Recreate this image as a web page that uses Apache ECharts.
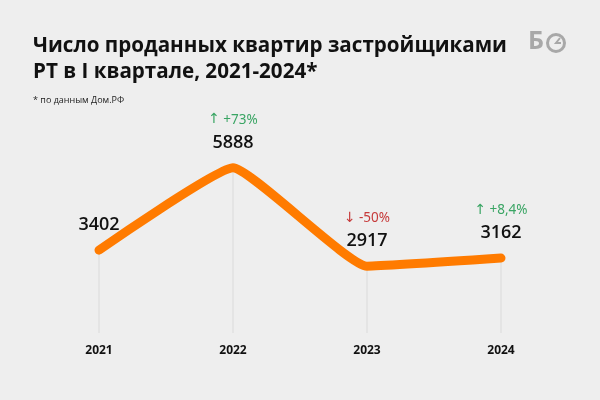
<!DOCTYPE html>
<html><head><meta charset="utf-8">
<script src="https://cdn.jsdelivr.net/npm/echarts@6/dist/echarts.min.js"></script>
<style>html,body{margin:0;padding:0;background:#eeeeee}#c{width:600px;height:400px}</style>
</head><body><div id="c"></div>
<script>
const years = ['2021', '2022', '2023', '2024'];
const sold = [3402, 5888, 2917, 3162];
const changes = ['', '+73%', '-50%', '+8,4%'];
const directions = [0, 1, -1, 1];

const chart = echarts.init(document.getElementById('c'));
const F = 'Open Sans, Noto Sans, sans-serif';
chart.setOption({
  backgroundColor: '#eeeeee',
  animation: false,
  title: [
    {text: 'Число проданных квартир застройщиками\nРТ в I квартале, 2021-2024*', left: 28, top: 28,
     textStyle: {fontFamily: F, fontSize: 20.6, fontWeight: 'bold', color: '#111', lineHeight: 26}},
    {text: '* по данным Дом.РФ', left: 28, top: 91, textStyle: {fontFamily: F, fontSize: 9, fontWeight: 'normal', color: '#222'}}
  ],
  graphic: [
    {type: 'text', left: 528, top: 29, style: {text: 'Б', fontFamily: F, fontSize: 25, fontWeight: 'bold', fill: '#a8a8a8'}},
    {type: 'circle', shape: {cx: 556, cy: 43, r: 8.5}, style: {fill: 'none', stroke: '#a8a8a8', lineWidth: 3}},
    {type: 'polyline', shape: {points: [[560, 38], [556, 43], [561, 43]]}, style: {fill: 'none', stroke: '#a8a8a8', lineWidth: 2}}
  ],
  grid: {left: 32, right: 32, top: 131, bottom: 67},
  xAxis: {
    type: 'category', data: years, boundaryGap: true,
    axisLine: {show: false}, axisTick: {show: false}, splitLine: {show: false},
    axisLabel: {margin: 12, fontFamily: F, fontSize: 12, fontWeight: 'bold', color: '#111'}
  },
  yAxis: {type: 'value', min: 900, max: 7000, show: false, splitLine: {show: false}},
  series: [
    {type: 'bar', data: sold, barWidth: 1, itemStyle: {color: '#d9d9d9'}, z: 1, silent: true,
     label: {show: true, position: 'top', distance: 13,
       formatter: p => {
         const c = changes[p.dataIndex];
         const d = directions[p.dataIndex];
         const v = '{v|' + p.value + '}';
         if (!c) return v;
         return (d > 0 ? '{ua|↑} {up|' + c + '}' : '{da|↓} {dn|' + c + '}') + '\n' + v;
       },
       rich: {
         v: {fontFamily: F, fontSize: 18, fontWeight: 600, color: '#111', lineHeight: 24},
         ua: {fontFamily: 'DejaVu Sans, sans-serif', fontSize: 14, color: '#3aa564', lineHeight: 22},
         da: {fontFamily: 'DejaVu Sans, sans-serif', fontSize: 14, color: '#c63a3a', lineHeight: 22},
         up: {fontFamily: 'Noto Sans, sans-serif', fontSize: 13.5, color: '#3aa564', lineHeight: 22},
         dn: {fontFamily: 'Noto Sans, sans-serif', fontSize: 13.5, color: '#c63a3a', lineHeight: 22}
       }}},
    {type: 'line', data: sold, smooth: 0.12, symbol: 'none', z: 3,
     lineStyle: {color: '#ff7b00', width: 9, cap: 'round', join: 'round'}}
  ]
});
</script></body></html>
